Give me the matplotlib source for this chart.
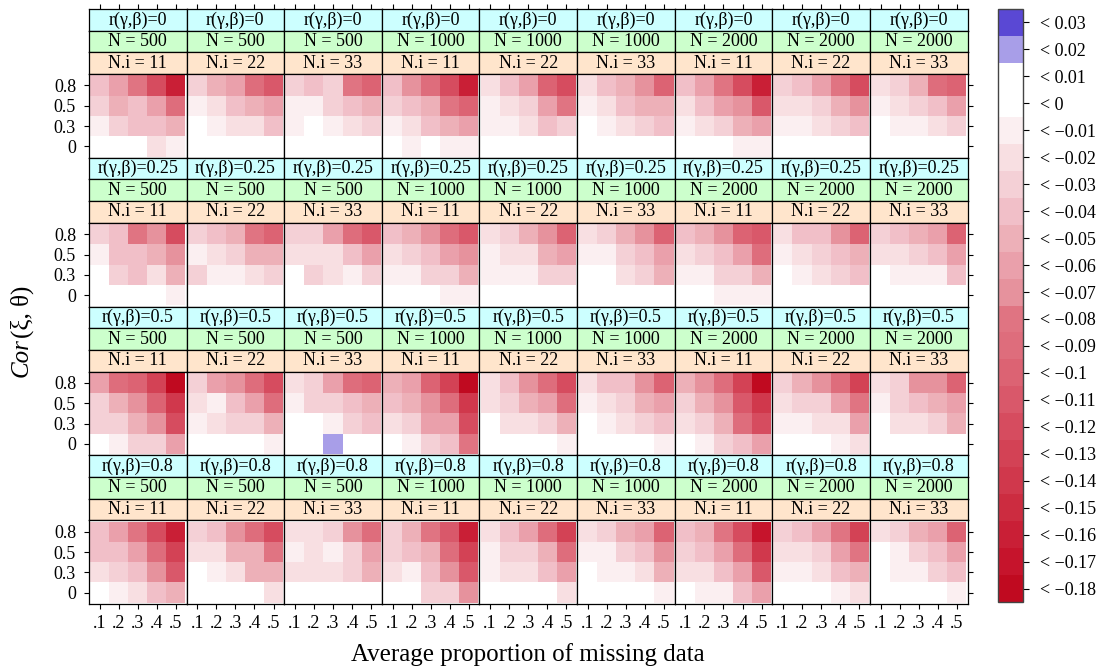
import numpy as np
import matplotlib
matplotlib.use("Agg")
import matplotlib.pyplot as plt
from matplotlib.colors import ListedColormap, BoundaryNorm
import matplotlib.colorbar as mcb

plt.rcParams['font.family'] = ['Liberation Serif', 'DejaVu Serif']

# ---------------- data ----------------
x_labels = [".1", ".2", ".3", ".4", ".5"]          # average proportion of missing data
y_labels = ["0", "0.3", "0.5", "0.8"]               # Cor(xi, theta)
r_levels = ["0", "0.25", "0.5", "0.8"]              # r(gamma, beta)
N_levels = [500, 500, 500, 1000, 1000, 1000, 2000, 2000, 2000]
Ni_levels = [11, 22, 33, 11, 22, 33, 11, 22, 33]

# each panel: rows listed top (0.8) to bottom (0), columns .1 ... .5
bias_r0 = [
    [[-.04, -.06, -.08, -.12, -.16], [-.03, -.05, -.04, -.06, -.09], [-.01, -.03, -.04, -.04, -.05], [0, 0, 0, -.02, -.01]],
    [[-.03, -.05, -.06, -.09, -.11], [-.01, -.02, -.04, -.05, -.06], [0, -.01, -.02, -.02, -.04], [0, 0, 0, 0, 0]],
    [[-.03, -.04, -.03, -.08, -.10], [-.01, -.01, -.03, -.04, -.05], [-.01, 0, -.01, -.02, -.03], [0, 0, 0, 0, 0]],
    [[-.04, -.07, -.09, -.12, -.16], [-.03, -.04, -.05, -.08, -.10], [-.01, -.02, -.04, -.05, -.06], [0, -.01, 0, -.01, -.01]],
    [[-.02, -.04, -.06, -.10, -.12], [-.01, -.02, -.03, -.06, -.08], [-.01, -.01, -.02, -.04, -.03], [0, 0, 0, 0, 0]],
    [[-.02, -.04, -.05, -.07, -.10], [-.01, -.02, -.04, -.05, -.05], [0, -.01, -.02, -.03, -.04], [0, 0, 0, 0, 0]],
    [[-.04, -.06, -.08, -.12, -.16], [-.02, -.04, -.06, -.07, -.11], [-.01, -.02, -.03, -.05, -.06], [0, 0, 0, -.01, -.01]],
    [[-.03, -.04, -.06, -.08, -.12], [-.02, -.02, -.03, -.05, -.07], [-.01, -.01, -.02, -.03, -.04], [0, 0, 0, 0, 0]],
    [[-.02, -.03, -.05, -.09, -.10], [-.01, -.02, -.03, -.04, -.06], [0, -.01, -.01, -.02, -.03], [0, 0, 0, 0, 0]],
]
bias_r025 = [
    [[-.03, -.04, -.08, -.07, -.12], [-.01, -.04, -.04, -.05, -.07], [0, -.03, -.04, -.02, -.05], [0, 0, 0, 0, -.01]],
    [[-.03, -.04, -.05, -.08, -.10], [-.01, -.02, -.03, -.05, -.05], [-.03, -.01, -.01, -.02, -.03], [0, 0, 0, 0, 0]],
    [[-.03, -.03, -.06, -.09, -.11], [-.02, -.02, -.02, -.04, -.06], [0, -.03, -.02, -.01, -.03], [0, 0, 0, 0, 0]],
    [[-.04, -.05, -.07, -.09, -.11], [-.02, -.03, -.04, -.06, -.07], [-.01, -.01, -.03, -.03, -.05], [0, 0, 0, -.01, -.01]],
    [[-.02, -.03, -.05, -.07, -.10], [-.01, -.02, -.02, -.05, -.06], [-.01, -.01, -.01, -.03, -.03], [0, 0, 0, 0, 0]],
    [[-.02, -.03, -.05, -.07, -.10], [-.01, -.01, -.03, -.04, -.06], [0, 0, -.02, -.03, -.05], [0, 0, 0, 0, 0]],
    [[-.04, -.05, -.07, -.10, -.11], [-.02, -.03, -.04, -.06, -.09], [-.01, -.01, -.03, -.03, -.05], [0, 0, -.01, -.01, -.01]],
    [[-.02, -.04, -.04, -.07, -.10], [-.01, -.02, -.03, -.04, -.05], [0, -.01, -.02, -.03, -.04], [0, 0, 0, 0, 0]],
    [[-.03, -.04, -.05, -.06, -.10], [-.02, -.02, -.03, -.04, -.06], [0, -.01, -.01, -.01, -.04], [0, 0, 0, 0, 0]],
]
bias_r05 = [
    [[-.06, -.09, -.10, -.13, -.18], [-.03, -.05, -.07, -.10, -.14], [-.03, -.03, -.05, -.07, -.12], [0, -.01, -.03, -.03, -.06]],
    [[-.03, -.06, -.07, -.09, -.12], [-.02, -.01, -.04, -.06, -.09], [-.01, -.02, -.03, -.03, -.05], [0, 0, 0, 0, -.01]],
    [[-.02, -.03, -.06, -.09, -.10], [-.01, -.03, -.03, -.04, -.05], [0, 0, -.01, -.03, -.04], [0, 0, .02, 0, 0]],
    [[-.05, -.06, -.10, -.13, -.18], [-.04, -.05, -.07, -.09, -.14], [-.02, -.03, -.06, -.06, -.12], [0, -.01, -.03, -.04, -.08]],
    [[-.02, -.04, -.07, -.09, -.12], [-.02, -.03, -.05, -.06, -.09], [0, -.02, -.02, -.03, -.05], [0, 0, 0, 0, -.01]],
    [[-.02, -.04, -.04, -.07, -.10], [-.01, -.02, -.03, -.05, -.06], [0, -.01, -.02, -.03, -.04], [0, 0, 0, 0, -.01]],
    [[-.05, -.07, -.09, -.13, -.18], [-.03, -.05, -.07, -.11, -.14], [-.02, -.03, -.05, -.09, -.12], [0, -.01, -.03, -.04, -.06]],
    [[-.03, -.05, -.07, -.09, -.13], [-.02, -.03, -.03, -.06, -.08], [-.01, -.01, -.02, -.02, -.06], [0, 0, 0, -.01, -.02]],
    [[-.02, -.03, -.07, -.07, -.10], [-.01, -.03, -.04, -.05, -.06], [0, -.02, -.02, -.03, -.05], [0, 0, 0, 0, 0]],
]
bias_r08 = [
    [[-.04, -.06, -.08, -.12, -.16], [-.04, -.04, -.06, -.09, -.13], [-.02, -.03, -.04, -.07, -.11], [0, -.01, -.02, -.04, -.05]],
    [[-.03, -.04, -.07, -.09, -.12], [-.02, -.02, -.05, -.05, -.08], [0, -.01, -.02, -.05, -.05], [0, 0, 0, 0, -.02]],
    [[-.02, -.02, -.03, -.07, -.09], [-.01, -.02, -.01, -.03, -.06], [-.02, -.02, -.02, -.03, -.05], [0, 0, 0, 0, 0]],
    [[-.03, -.05, -.08, -.11, -.16], [-.03, -.04, -.05, -.09, -.13], [-.02, -.01, -.04, -.07, -.11], [0, 0, -.03, -.03, -.07]],
    [[-.02, -.04, -.06, -.09, -.13], [-.01, -.03, -.03, -.05, -.09], [-.01, -.02, -.02, -.04, -.06], [0, 0, 0, 0, -.02]],
    [[-.02, -.03, -.05, -.06, -.10], [-.01, -.01, -.03, -.04, -.07], [0, -.01, -.01, -.02, -.05], [0, 0, 0, 0, -.01]],
    [[-.04, -.05, -.08, -.12, -.17], [-.03, -.04, -.06, -.09, -.14], [-.02, -.02, -.04, -.06, -.11], [0, -.01, -.01, -.04, -.06]],
    [[-.03, -.04, -.06, -.08, -.13], [-.02, -.02, -.03, -.06, -.08], [-.01, -.01, -.02, -.04, -.05], [0, 0, 0, -.01, -.02]],
    [[-.02, -.03, -.05, -.06, -.10], [0, -.01, -.03, -.04, -.06], [0, -.01, -.01, -.03, -.04], [0, 0, 0, 0, -.01]],
]
bias_by_r = [bias_r0, bias_r025, bias_r05, bias_r08]

# colour key levels (bin centres) and colours, from -0.18 up to 0.03
key_levels = [-0.18, -0.17, -0.16, -0.15, -0.14, -0.13, -0.12, -0.11, -0.10, -0.09,
              -0.08, -0.07, -0.06, -0.05, -0.04, -0.03, -0.02, -0.01, 0.0, 0.01, 0.02, 0.03]
key_colors = ["#c00a20", "#c6142c", "#c91f36", "#cc2c40", "#d0384c", "#d34255",
              "#d64c5f", "#d9586a", "#dc6373", "#de6d7c", "#e07482", "#e6929d",
              "#eaa0ab", "#edb0b8", "#f1bfc8", "#f4d0d6", "#f8dfe2", "#fbeff1",
              "#ffffff", "#ffffff", "#a89ee8", "#5a48d4"]

# ---------------- layout ----------------
W, H = 1110, 672
fig = plt.figure(figsize=(W / 100, H / 100), dpi=100)


def px(x, y, w, h):
    return [x / W, 1 - (y + h) / H, w / W, h / H]


cmap = ListedColormap(key_colors)
edges = np.round(np.array(key_levels) - 0.005, 4).tolist() + [round(key_levels[-1] + 0.005, 4)]
norm = BoundaryNorm(edges, cmap.N)

left, right = 89.0, 967.5
top, bottom = 9.0, 604.0
pw = (right - left) / 9
bh = (bottom - top) / 4
sh = 21.7
FS = 13
LW = 0.9
pad = 0.06
strip_cols = ["#ccffff", "#ccffcc", "#ffe5cc"]
tick_len = 3.8

xc = np.arange(1, 6)
yc = np.arange(1, 5)
xe = np.arange(0.5, 6.0, 1.0)
ye = np.arange(0.5, 5.0, 1.0)

for j, r in enumerate(r_levels):
    for i in range(9):
        x0 = left + i * pw
        y0 = top + j * bh
        texts = ["r(\u03b3,\u03b2)=" + r, "N = %d" % N_levels[i], "N.i = %d" % Ni_levels[i]]
        for s in range(3):
            sax = fig.add_axes(px(x0, y0 + s * sh, pw, sh))
            sax.set_facecolor(strip_cols[s])
            sax.set_xlim(0.5 - pad, 5.5 + pad)
            sax.set_ylim(0, 1)
            sax.set_yticks([])
            if j == 0 and s == 0:
                sax.set_xticks(xc)
                sax.tick_params(axis='x', bottom=False, top=True, labelbottom=False,
                                labeltop=False, direction='out', length=tick_len, width=0.8)
            else:
                sax.set_xticks([])
            for sp in sax.spines.values():
                sp.set_linewidth(LW)
                sp.set_color("black")
            sax.text(0.5, 0.5, texts[s], transform=sax.transAxes, ha='center',
                     va='center', fontsize=FS)
        ax = fig.add_axes(px(x0, y0 + 3 * sh, pw, bh - 3 * sh))
        data = np.array(bias_by_r[j][i], dtype=float)[::-1]
        ax.pcolormesh(xe, ye, data, cmap=cmap, norm=norm, shading='flat')
        ax.set_xlim(0.5 - pad, 5.5 + pad)
        ax.set_ylim(0.5 - pad, 4.5 + pad)
        ax.set_xticks(xc)
        ax.set_yticks(yc)
        ax.tick_params(direction='out', length=tick_len, width=0.8, labelsize=FS,
                       left=(i == 0), labelleft=(i == 0),
                       right=(i == 8), labelright=False,
                       bottom=(j == 3), labelbottom=(j == 3),
                       top=False, labeltop=False)
        ax.tick_params(axis='y', pad=5.5)
        ax.tick_params(axis='x', pad=4)
        ax.set_xticklabels(x_labels)
        ax.set_yticklabels(y_labels)
        for sp in ax.spines.values():
            sp.set_linewidth(LW)
            sp.set_color("black")

# colour key
cax = fig.add_axes(px(998, 9, 25, 593))
cb = mcb.ColorbarBase(cax, cmap=cmap, norm=norm, boundaries=edges,
                      ticks=key_levels, orientation='vertical', spacing='uniform')
cb.set_ticklabels(["< " + ("%g" % v).replace("-", "\u2212") for v in key_levels])
cb.minorticks_off()
cax.minorticks_off()
cax.tick_params(which='minor', length=0)
cax.tick_params(direction='out', length=4.3, width=0.8, labelsize=FS, pad=8)
cb.outline.set_linewidth(1.0)
cb.outline.set_edgecolor("#444444")

# axis titles
fig.text(528 / W, 1 - 655 / H, "Average proportion of missing data", ha='center',
         va='center', fontsize=18)
ymid = 1 - 338 / H
fig.text(22 / W, ymid, "Cor", rotation=90, ha='center', va='top', fontsize=18,
         style='italic')
fig.text(22 / W, ymid, "(\u03be, \u03b8)", rotation=90, ha='center', va='bottom',
         fontsize=18)

fig.savefig("out.png", dpi=100)
